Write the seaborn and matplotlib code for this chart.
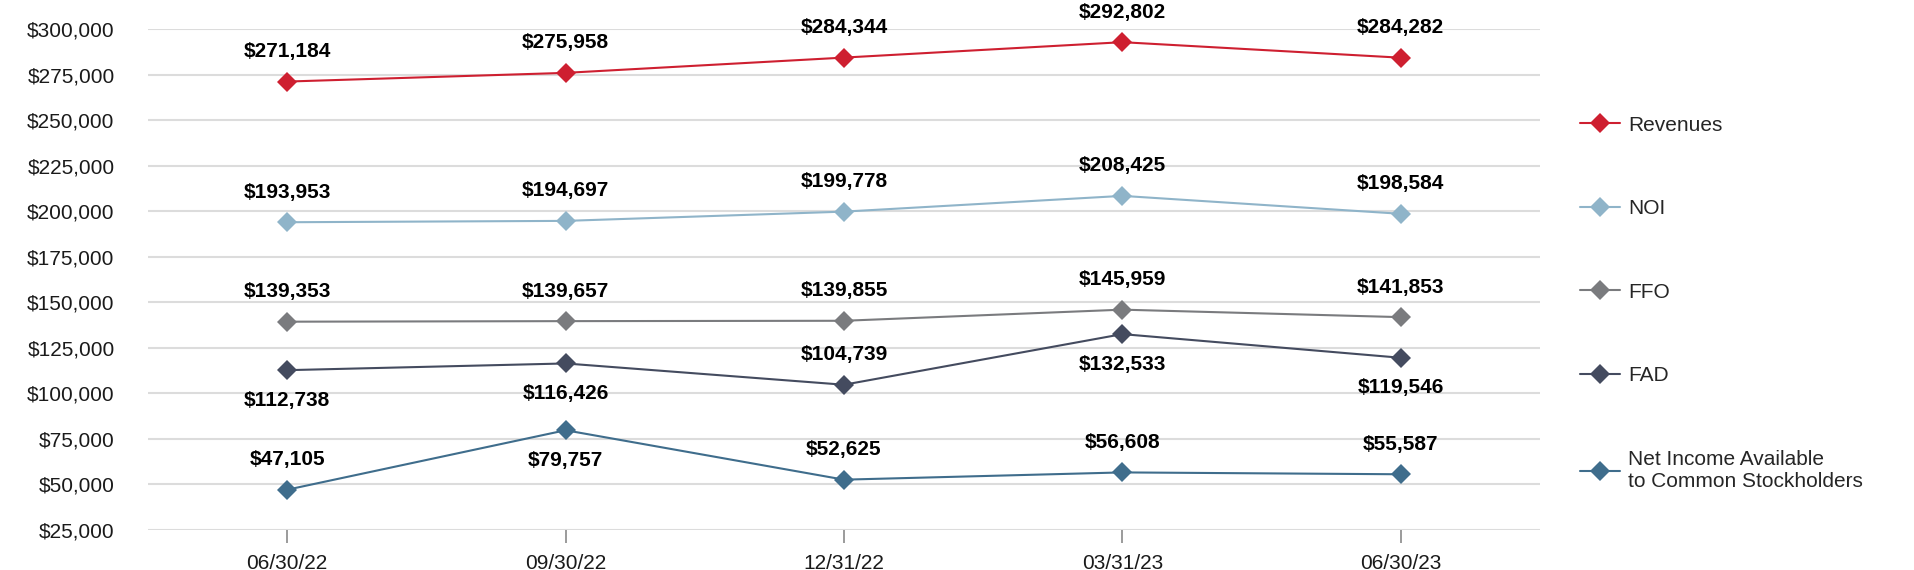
import matplotlib
matplotlib.use("Agg")
import matplotlib.pyplot as plt
import seaborn as sns
import pandas as pd

# quarter end dates
periods = ["06/30/22", "09/30/22", "12/31/22", "03/31/23", "06/30/23"]

revenues = [271184, 275958, 284344, 292802, 284282]
noi = [193953, 194697, 199778, 208425, 198584]
ffo = [139353, 139657, 139855, 145959, 141853]
fad = [112738, 116426, 104739, 132533, 119546]
net_income = [47105, 79757, 52625, 56608, 55587]

series_names = ["Revenues", "NOI", "FFO", "FAD",
                "Net Income Available\nto Common Stockholders"]
series_values = [revenues, noi, ffo, fad, net_income]
series_colors = ["#CE1F30", "#8FB4C9", "#7A7B7E", "#444B5F", "#3F6D8C"]
# +1 label above the point, -1 below
label_side = [
    [1, 1, 1, 1, 1],
    [1, 1, 1, 1, 1],
    [1, 1, 1, 1, 1],
    [-1, -1, 1, -1, -1],
    [1, -1, 1, 1, 1],
]

y_ticks = list(range(25000, 300001, 25000))

rows = []
for name, vals in zip(series_names, series_values):
    for p, v in zip(periods, vals):
        rows.append({"period": p, "series": name, "value": v})
df = pd.DataFrame(rows)

sns.set_theme(style="white")
plt.rcParams["font.family"] = ["Liberation Sans", "DejaVu Sans"]

fig = plt.figure(figsize=(19.14, 5.70), dpi=100)
ax = fig.add_axes([0.0773, 0.0702, 0.7273, 0.8788])

palette = dict(zip(series_names, series_colors))
sns.lineplot(data=df, x="period", y="value", hue="series", hue_order=series_names,
             palette=palette, marker="D", markersize=10, markeredgewidth=0,
             linewidth=1.5, sort=False, ax=ax)

# value labels
for name, vals, sides in zip(series_names, series_values, label_side):
    for i, (v, s) in enumerate(zip(vals, sides)):
        ax.annotate(f"${v:,.0f}", xy=(i, v), xytext=(0, 30 * s),
                    textcoords="offset pixels", ha="center", va="center",
                    fontsize=15, fontweight="bold", color="black")

ax.set_xlim(-0.5, 4.5)
ax.set_ylim(25000, 300000)
ax.set_yticks(y_ticks)
ax.set_yticklabels([f"${t:,}" for t in y_ticks])
ax.set_xticks(range(len(periods)))
ax.set_xticklabels(periods)
ax.set_xlabel("")
ax.set_ylabel("")

ax.grid(axis="y", color="#DCDCDC", linewidth=1.5)
ax.grid(axis="x", visible=False)
for sp in ax.spines.values():
    sp.set_visible(False)
ax.tick_params(axis="y", length=0, pad=24, labelsize=15, labelcolor="#1a1a1a")
ax.tick_params(axis="x", bottom=True, length=9, width=1.2, color="#8a8a8a",
               pad=8, labelsize=15, labelcolor="#1a1a1a")

leg = ax.legend(loc="upper left", bbox_to_anchor=(1.023, 0.844), frameon=False,
                fontsize=15, labelspacing=3.1, handlelength=1.9,
                handletextpad=0.4, borderaxespad=0)
for line in leg.get_lines():
    line.set_linewidth(1.5)
    line.set_markersize(10)

fig.savefig("out.png", dpi=100)
